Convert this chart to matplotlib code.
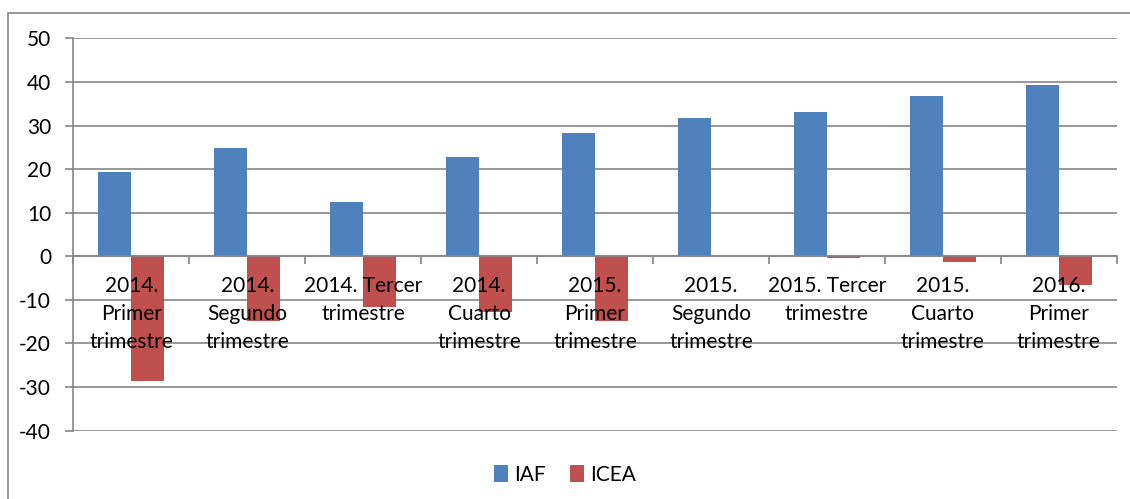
import matplotlib.pyplot as plt
import matplotlib.patches as mpatches
import numpy as np

plt.rcParams['font.family'] = ['Lato', 'DejaVu Sans']
plt.rcParams['axes.unicode_minus'] = False

categories = ["2014.\nPrimer\ntrimestre", "2014.\nSegundo\ntrimestre", "2014. Tercer\ntrimestre",
              "2014.\nCuarto\ntrimestre", "2015.\nPrimer\ntrimestre", "2015.\nSegundo\ntrimestre",
              "2015. Tercer\ntrimestre", "2015.\nCuarto\ntrimestre", "2016.\nPrimer\ntrimestre"]
iaf = [19.4, 24.9, 12.5, 22.7, 28.3, 31.8, 33.0, 36.8, 39.3]
icea = [-28.7, -14.8, -11.6, -12.7, -14.9, 0.0, -0.4, -1.4, -6.6]
yticks = list(range(-40, 51, 10))

blue = '#4F81BD'
red = '#C0504D'
gray = '#868686'

fig = plt.figure(figsize=(11.3, 4.99), dpi=100)
ax = fig.add_axes([0.0649, 0.1369, 0.9233, 0.7863])

# outer chart frame (cut by the image on right/bottom)
fig.patches.append(mpatches.Rectangle((8 / 1130, -0.05), 1.2, 1 - 13 / 499 + 0.05,
                                      transform=fig.transFigure, fill=False,
                                      edgecolor=gray, linewidth=1.2))

x = np.arange(len(categories))
w = 0.285
ax.bar(x - w / 2, iaf, w, color=blue, label='IAF', zorder=2)
ax.bar(x + w / 2, icea, w, color=red, label='ICEA', zorder=2)

for v in yticks:
    ax.axhline(v, color=gray, linewidth=1.2, zorder=0.5)

ax.set_xlim(-0.5, len(categories) - 0.5)
ax.set_ylim(-40, 50)
ax.set_yticks(yticks)
ax.tick_params(axis='y', length=6, width=1.2, color=gray, pad=10, labelsize=15, labelcolor='black')

for s in ['top', 'right']:
    ax.spines[s].set_visible(False)
ax.spines['left'].set_color(gray)
ax.spines['left'].set_linewidth(1.2)
ax.spines['bottom'].set_position(('data', 0))
ax.spines['bottom'].set_color(gray)
ax.spines['bottom'].set_linewidth(1.2)

ax.set_xticks(np.arange(len(categories) + 1) - 0.5)
ax.set_xticklabels([])
ax.tick_params(axis='x', length=6, width=1.2, color=gray, direction='out')

for i, lab in enumerate(categories):
    ax.annotate(lab, xy=(x[i], 0), xytext=(0, -20), textcoords='offset pixels',
                ha='center', va='top', fontsize=15, linespacing=1.5, zorder=5)

fig.legend(loc='center', bbox_to_anchor=(0.5, 1 - 475 / 499), ncol=2, frameon=False,
           fontsize=15, handlelength=0.65, handleheight=0.85, handletextpad=0.3,
           columnspacing=1.2)

fig.savefig('out.png', dpi=100)
